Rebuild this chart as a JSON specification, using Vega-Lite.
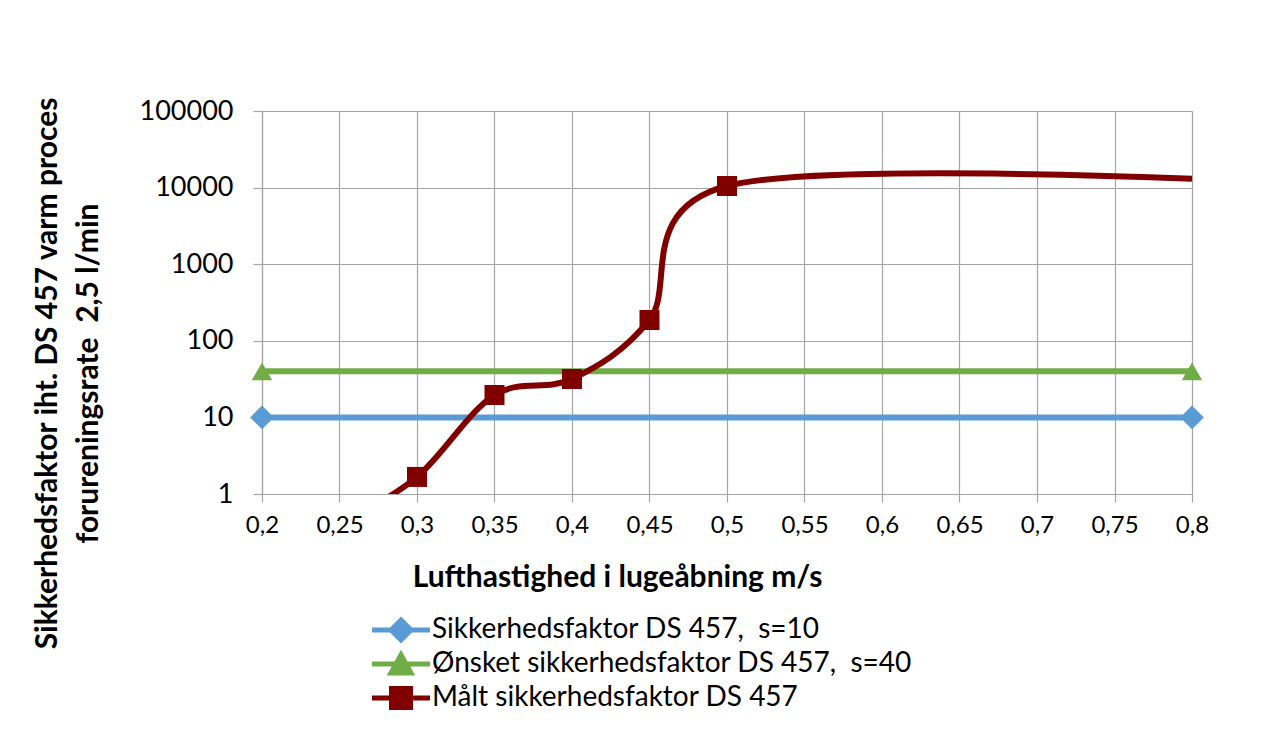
{
  "$schema": "https://vega.github.io/schema/vega-lite/v6.json",
  "autosize": "none",
  "width": 930,
  "height": 383,
  "padding": {"left": 262, "top": 111, "right": 77, "bottom": 241},
  "background": "white",
  "config": {
    "view": {"stroke": null},
    "font": "Lato",
    "axis": {
      "gridColor": "#A5A5A5",
      "gridWidth": 1.2,
      "domainColor": "#A5A5A5",
      "domainWidth": 1.2,
      "tickColor": "#A5A5A5",
      "tickWidth": 1.2,
      "labelColor": "#000000",
      "titleColor": "#000000",
      "labelFont": "Lato",
      "titleFont": "Lato"
    }
  },
  "data": {
    "values": [
      {"series": "Sikkerhedsfaktor DS 457,  s=10", "x": 0.2, "y": 10},
      {"series": "Sikkerhedsfaktor DS 457,  s=10", "x": 0.8, "y": 10},
      {"series": "Ønsket sikkerhedsfaktor DS 457,  s=40", "x": 0.2, "y": 40},
      {"series": "Ønsket sikkerhedsfaktor DS 457,  s=40", "x": 0.8, "y": 40},
      {"series": "Målt sikkerhedsfaktor DS 457", "x": 0.25, "y": 0.4},
      {"series": "Målt sikkerhedsfaktor DS 457", "x": 0.3, "y": 1.67},
      {"series": "Målt sikkerhedsfaktor DS 457", "x": 0.35, "y": 19.6},
      {"series": "Målt sikkerhedsfaktor DS 457", "x": 0.4, "y": 31.7},
      {"series": "Målt sikkerhedsfaktor DS 457", "x": 0.45, "y": 187},
      {"series": "Målt sikkerhedsfaktor DS 457", "x": 0.5, "y": 10500},
      {"series": "Målt sikkerhedsfaktor DS 457", "x": 0.8, "y": 13000}
    ]
  },
  "encoding": {
    "x": {
      "field": "x", "type": "quantitative",
      "scale": {"domain": [0.2, 0.8], "nice": false, "zero": false},
      "axis": {
        "values": [0.2, 0.25, 0.3, 0.35, 0.4, 0.45, 0.5, 0.55, 0.6, 0.65, 0.7, 0.75, 0.8],
        "labelExpr": "replace(format(datum.value, '.2~f'), '.', ',')",
        "labelFontSize": 24,
        "labelPadding": 11,
        "tickSize": 8,
        "grid": true,
        "title": "Lufthastighed i lugeåbning m/s",
        "titleFontSize": 30,
        "titleFontWeight": "bold",
        "titleX": 355,
        "titleY": 83,
        "titleBaseline": "middle",
        "titleAlign": "center",
        "labelFlush": false,
        "labelOverlap": false
      }
    },
    "y": {
      "field": "y", "type": "quantitative",
      "scale": {"type": "log", "domain": [1, 100000], "nice": false},
      "axis": {
        "values": [1, 10, 100, 1000, 10000, 100000],
        "labelExpr": "format(datum.value, 'd')",
        "labelFontSize": 27,
        "labelPadding": 20,
        "tickSize": 9,
        "grid": true,
        "title": ["Sikkerhedsfaktor iht. DS 457 varm proces", "forureningsrate\u00a0 2,5 l/min"],
        "titleFontSize": 30,
        "titleFontWeight": "bold",
        "titleLineHeight": 41,
        "titleX": -215,
        "titleY": 262,
        "titleAngle": 270,
        "titleBaseline": "middle",
        "titleAlign": "center",
        "labelFlush": false,
        "labelOverlap": false
      }
    }
  },
  "layer": [
    {
      "mark": {"type": "line", "interpolate": "cardinal", "tension": 0, "strokeWidth": 6, "clip": true},
      "encoding": {
        "color": {
          "field": "series", "type": "nominal",
          "scale": {
            "domain": ["Sikkerhedsfaktor DS 457,  s=10", "Ønsket sikkerhedsfaktor DS 457,  s=40", "Målt sikkerhedsfaktor DS 457"],
            "range": ["#5B9BD5", "#70AD47", "#800000"]
          },
          "legend": {
            "orient": "none",
            "legendX": 125,
            "legendY": 505,
            "title": null,
            "labelFont": "Lato",
            "labelFontSize": 28,
            "labelColor": "#000000",
            "labelOffset": 17,
            "labelLimit": 0,
            "labelExpr": "replace(datum.label, ',  ', ',\u00a0 ')",
            "rowPadding": -5,
            "symbolSize": 400,
            "symbolStrokeWidth": 5,
            "encode": {
              "symbols": {
                "update": {
                  "shape": {"signal": "datum.value === 'Ønsket sikkerhedsfaktor DS 457,  s=40' ? 'M-2.9,0H2.9M-1,0.9L0,-0.9L1,0.9Z' : (datum.value === 'Målt sikkerhedsfaktor DS 457' ? 'M-2.9,0H2.9M-0.95,-0.95H0.95V0.95H-0.95Z' : 'M-2.9,0H2.9M-1,0L0,-1L1,0L0,1Z')"},
                  "fill": {"scale": "color", "field": "value"},
                  "stroke": {"scale": "color", "field": "value"},
                  "strokeWidth": {"value": 5},
                  "opacity": {"value": 1},
                  "fillOpacity": {"value": 1}
                }
              }
            }
          }
        },
        "detail": {"field": "series"},
        "order": {"field": "x", "type": "quantitative"}
      }
    },
    {
      "transform": [{"filter": "datum.series === 'Sikkerhedsfaktor DS 457,  s=10'"}],
      "mark": {"type": "point", "shape": "diamond", "filled": true, "size": 560, "opacity": 1},
      "encoding": {"color": {"field": "series", "type": "nominal"}}
    },
    {
      "transform": [{"filter": "datum.series === 'Ønsket sikkerhedsfaktor DS 457,  s=40'"}],
      "mark": {"type": "point", "shape": "triangle-up", "filled": true, "size": 420, "opacity": 1},
      "encoding": {"color": {"field": "series", "type": "nominal"}}
    },
    {
      "transform": [{"filter": "datum.series === 'Målt sikkerhedsfaktor DS 457' && datum.x >= 0.3 && datum.x <= 0.5"}],
      "mark": {"type": "point", "shape": "square", "filled": true, "size": 400, "opacity": 1},
      "encoding": {"color": {"field": "series", "type": "nominal"}}
    }
  ]
}
